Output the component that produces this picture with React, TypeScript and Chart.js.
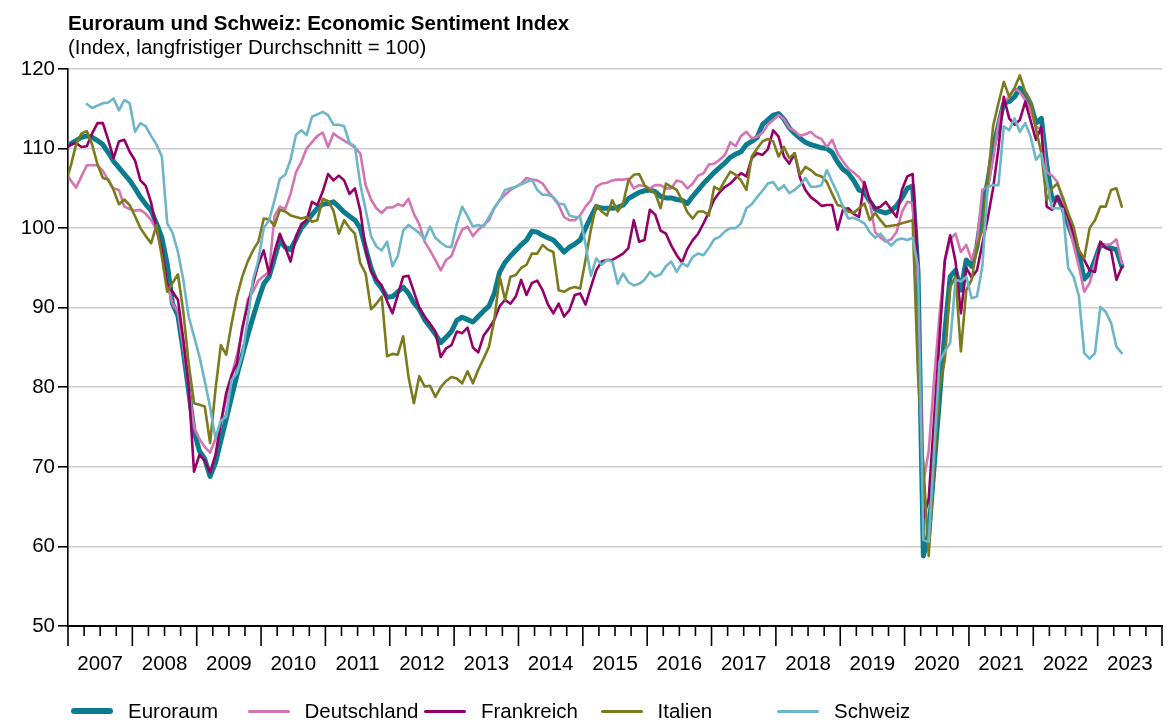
import React, { useEffect, useRef } from 'react';
import { Chart, registerables } from 'chart.js';

Chart.register(...registerables);

const FONT = '"Liberation Sans", Arial, Helvetica, sans-serif';

const chartTitle = 'Euroraum und Schweiz: Economic Sentiment Index';
const chartSubtitle = '(Index, langfristiger Durchschnitt = 100)';

// Monthly categories, Dec 2006 .. May 2023
const months: string[] = [];
for (let k = 0; k < 198; k++) {
  const m = (11 + k) % 12;
  const y = 2006 + Math.floor((11 + k) / 12);
  months.push(`${y}-${String(m + 1).padStart(2, '0')}`);
}

const yearLabels = ['2007', '2008', '2009', '2010', '2011', '2012', '2013', '2014', '2015', '2016', '2017', '2018', '2019', '2020', '2021', '2022', '2023'];
const yTickValues = [50, 60, 70, 80, 90, 100, 110, 120];

const euroraum = [
  110.2,
  110.6, 111.0, 111.4, 111.6, 111.4, 111.0, 110.5, 109.5, 108.4, 107.6, 106.8, 106.0,
  105.0, 103.9, 103.0, 102.2, 100.6, 98.8, 95.5, 90.5, 89.0, 84.5, 79.5, 74.5,
  72.0, 71.0, 68.8, 70.5, 73.3, 76.0, 78.8, 81.5, 84.0, 86.5, 88.8, 91.0,
  93.0, 93.9, 96.2, 98.5, 97.6, 97.3, 98.6, 100.0, 100.8, 101.7, 102.5, 103.0,
  103.1, 103.3, 102.7, 102.0, 101.5, 101.0, 100.0, 97.5, 95.0, 93.3, 92.4, 91.3,
  91.4, 92.0, 92.6, 91.8, 90.6, 89.8, 88.5, 87.6, 86.7, 85.6, 86.3, 87.0,
  88.4, 88.8, 88.5, 88.2, 88.9, 89.6, 90.2, 91.8, 94.5, 95.7, 96.5, 97.2,
  97.9, 98.5, 99.6, 99.5, 99.1, 98.8, 98.5, 97.8, 97.0, 97.6, 98.0, 98.5,
  100.0, 101.4, 102.7, 102.5, 102.5, 102.5, 102.6, 102.9, 103.7, 104.1, 104.5, 104.7,
  104.8, 104.6, 104.0, 103.8, 103.8, 103.6, 103.5, 103.1, 104.0, 104.8, 105.6, 106.3,
  107.0, 107.6, 108.2, 108.9, 109.3, 109.6, 110.5, 110.9, 111.4, 113.0, 113.6, 114.2,
  114.4, 113.7, 112.6, 111.9, 111.3, 110.8, 110.5, 110.3, 110.1, 110.0, 109.5, 108.3,
  107.4, 106.9, 106.0, 104.8, 104.5, 103.4, 102.4, 102.1, 101.9, 102.2, 102.8, 103.8,
  105.0, 105.3, 94.5, 58.8, 61.5, 70.0, 78.5, 87.0, 93.9, 94.7, 92.2, 96.0,
  95.2, 97.7, 102.5, 105.8, 110.0, 113.0, 115.7, 115.9, 116.5, 117.6, 116.9, 115.6,
  113.2, 113.8, 108.0, 103.5, 103.9, 102.5, 100.5, 98.6, 96.8, 93.6, 94.3, 96.0,
  97.9, 97.7, 97.5, 97.3, 95.2,
];

const deutschland = [
  107.2,
  106.0, 105.1, 106.5, 107.9, 107.9, 107.9, 107.2, 106.0, 105.0, 104.8, 102.7, 102.4,
  102.2, 102.3, 101.8, 101.0, 99.8, 97.0, 93.0, 90.5, 89.5, 85.0, 80.0, 75.0,
  73.5, 72.5, 71.8, 73.5, 75.5, 78.5, 81.5, 84.0, 87.0, 91.0, 92.0, 93.4,
  94.0, 94.5, 101.5, 102.7, 102.4, 104.3, 107.0, 108.3, 110.0, 110.8, 111.6, 112.0,
  110.2, 111.9, 111.4, 111.0, 110.6, 110.1, 109.4, 105.4, 103.6, 102.5, 101.9, 102.6,
  102.6, 103.0, 102.8, 103.7, 101.8, 100.5, 98.3, 97.2, 96.0, 94.7, 96.0, 96.5,
  98.3, 99.8, 100.2, 99.0, 99.8, 100.4, 101.0, 102.6, 103.5, 104.2, 104.8, 105.2,
  105.6, 106.3, 106.1, 106.0, 105.6, 104.6, 103.8, 102.9, 101.4, 101.0, 101.0, 101.6,
  102.7, 103.5, 105.2, 105.6, 105.7, 106.0, 106.1, 106.1, 106.2, 105.0, 105.4, 105.3,
  105.0, 105.4, 105.4, 105.0, 105.0, 106.0, 105.8, 105.0, 105.6, 106.6, 106.9, 108.0,
  108.1, 108.6, 109.2, 110.8, 110.3, 111.6, 112.1, 111.3, 111.5, 112.0, 113.0, 113.6,
  114.2, 113.7, 112.6, 112.2, 111.6, 111.8, 112.1, 111.5, 111.2, 110.2, 111.1, 109.4,
  108.4, 107.5, 107.0, 106.4, 105.5, 103.3, 99.5, 98.8, 98.3, 98.6, 99.5, 102.0,
  103.3, 103.2, 93.0, 68.0, 72.0, 81.0, 89.0, 95.8, 98.6, 99.3, 97.0, 97.9,
  96.0, 98.0, 104.8, 105.2, 108.6, 113.2, 115.8, 116.5, 117.6, 117.1, 116.1, 114.8,
  112.7, 112.5, 107.0, 106.6, 105.8, 103.5, 101.0, 97.9, 95.2, 92.0, 93.1, 95.6,
  98.0, 97.9, 98.0, 98.6, 95.6,
];

const frankreich = [
  110.0,
  110.5, 110.7, 110.2, 110.3, 111.9, 113.2, 113.2, 111.1, 108.8, 110.9, 111.1, 109.6,
  108.5, 106.0, 105.3, 103.2, 100.0, 97.3, 93.0, 92.0, 91.0, 86.0, 80.0, 69.4,
  71.5, 70.8, 69.3, 71.5, 75.5, 79.3, 81.5, 83.0, 87.5, 90.3, 93.0, 95.5,
  97.2, 94.2, 97.0, 99.3, 97.6, 95.8, 98.9, 100.5, 101.0, 103.3, 102.9, 104.6,
  106.8, 106.0, 106.6, 106.0, 104.3, 105.0, 102.2, 97.4, 94.6, 93.6, 92.8, 90.8,
  89.3, 91.6, 93.9, 94.0, 92.0, 90.0, 88.9, 88.0, 87.0, 83.8, 84.9, 85.3,
  87.0, 86.8, 87.5, 85.0, 84.4, 86.5, 87.4, 88.5, 90.2, 91.0, 90.5, 91.4,
  93.5, 91.6, 93.1, 93.4, 92.2, 90.4, 89.3, 90.5, 88.9, 89.7, 91.6, 91.8,
  90.4, 92.6, 94.7, 95.8, 96.0, 96.0, 96.4, 96.8, 97.5, 101.0, 98.3, 98.5,
  102.3, 101.7, 99.7, 99.3, 97.8, 96.6, 95.7, 97.4, 98.5, 99.3, 100.6, 102.0,
  103.6, 104.5, 105.2, 105.6, 106.3, 106.9, 106.5, 108.8, 109.4, 109.2, 109.9, 112.3,
  111.5, 109.0, 108.1, 109.4, 106.3, 104.8, 103.9, 103.4, 102.8, 102.9, 102.9, 99.8,
  102.3, 102.5, 101.8, 101.4, 105.8, 103.5, 102.5, 102.7, 103.3, 102.3, 101.4, 104.8,
  106.5, 106.8, 95.0, 63.5, 66.0, 76.0, 86.0, 96.0, 99.1, 95.8, 89.3, 95.0,
  93.8, 94.7, 98.0, 101.2, 105.0, 110.0, 116.5, 113.8, 113.0, 113.6, 115.9, 113.5,
  111.1, 112.7, 102.7, 102.3, 103.9, 102.7, 101.4, 99.3, 97.2, 96.0, 94.7, 94.5,
  98.3, 97.5, 97.2, 93.5, 95.1,
];

const italien = [
  105.5,
  107.8, 110.5, 111.9, 112.2, 110.5, 108.0, 106.3, 106.1, 104.8, 103.0, 103.6, 102.9,
  101.5, 100.0, 99.0, 98.1, 100.4, 96.4, 92.0, 93.1, 94.2, 89.5, 83.0, 78.0,
  77.8, 77.6, 73.0, 79.7, 85.3, 84.1, 88.0, 91.4, 93.9, 95.8, 97.2, 98.3,
  101.2, 101.1, 100.3, 102.3, 102.1, 101.6, 101.4, 101.2, 101.4, 100.8, 101.0, 103.7,
  103.4, 102.2, 99.3, 101.0, 100.0, 99.3, 95.6, 94.3, 89.8, 90.5, 91.4, 83.9,
  84.2, 84.1, 86.4, 81.3, 78.0, 81.4, 80.1, 80.2, 78.8, 80.0, 80.8, 81.3,
  81.1, 80.5, 82.0, 80.5, 82.2, 83.6, 85.1, 88.5, 93.9, 91.0, 93.9, 94.1,
  95.0, 95.4, 96.8, 96.8, 97.9, 97.3, 97.0, 92.2, 92.0, 92.4, 92.6, 92.4,
  96.0, 99.8, 102.9, 102.1, 101.6, 103.5, 102.1, 103.1, 106.0, 106.7, 106.8, 105.4,
  104.8, 104.4, 102.5, 105.6, 105.2, 104.8, 103.5, 102.0, 101.2, 102.1, 102.1, 101.6,
  105.2, 104.8, 106.0, 107.1, 106.7, 106.0, 104.8, 109.0, 110.0, 110.9, 111.2, 110.9,
  109.0, 110.2, 108.8, 109.4, 106.7, 107.7, 107.3, 106.7, 106.5, 105.8, 104.3, 102.9,
  102.7, 102.1, 101.9, 102.5, 103.1, 101.0, 101.9, 101.0, 100.2, 100.3, 100.4, 100.6,
  100.8, 101.0, 81.6, null, 58.8, 70.0, 80.1, 83.4, 92.6, 93.9, 84.5, 92.2,
  93.5, 97.7, 99.8, 106.0, 112.8, 115.7, 118.4, 116.5, 117.6, 119.2, 117.1, 115.9,
  112.5, 109.4, 103.5, 105.0, 105.6, 103.9, 101.9, 100.2, 97.2, 96.2, 100.0, 101.0,
  102.7, 102.7, 104.8, 105.0, 102.7,
];

const schweiz = [
  null,
  null, null, null, 115.6, 115.1, 115.4, 115.7, 115.8, 116.3, 114.8, 116.1, 115.7,
  112.1, 113.2, 112.8, 111.6, 110.5, 109.0, 100.6, 99.4, 97.0, 93.5, 88.9, 86.4,
  83.9, 80.8, 77.5, 73.6, 75.8, 76.3, 80.9, 81.8, 84.0, 88.5, 93.5, 96.0,
  100.0, 101.0, 103.5, 106.2, 106.7, 108.6, 111.7, 112.3, 111.7, 114.0, 114.3, 114.6,
  114.2, 113.0, 113.0, 112.8, 110.7, 110.3, 105.5, 102.3, 99.0, 97.7, 97.2, 98.3,
  95.2, 96.5, 99.7, 100.4, 99.9, 99.4, 98.6, 100.2, 98.8, 98.2, 97.7, 97.6,
  100.5, 102.7, 101.5, 100.2, 100.4, 100.2, 101.4, 102.5, 103.5, 104.8, 105.0, 105.2,
  105.5, 105.8, 106.1, 104.8, 104.2, 104.2, 103.9, 103.1, 103.0, 101.6, 101.4, 101.4,
  98.0, 94.0, 96.2, 95.4, 96.0, 95.8, 93.0, 94.3, 93.2, 92.8, 93.0, 93.5,
  94.5, 93.9, 94.2, 95.2, 95.8, 94.5, 95.6, 95.2, 96.4, 96.8, 96.6, 97.5,
  98.6, 98.9, 99.6, 100.0, 100.0, 100.6, 102.5, 103.0, 103.9, 104.7, 105.6, 105.8,
  104.8, 105.4, 104.4, 104.8, 105.4, 106.3, 105.2, 105.2, 105.4, 107.3, 105.8, 104.4,
  102.7, 101.2, 101.3, 101.0, 100.6, 99.5, 98.8, 99.3, 98.5, 97.8, 98.5, 98.7,
  98.5, 98.8, 95.2, 60.8, 60.6, 72.0, 83.2, 84.5, 85.6, 93.5, 93.3, 93.9,
  91.2, 91.4, 95.2, 105.2, 105.4, 105.4, 112.8, 112.3, 113.8, 112.1, 113.2, 111.5,
  108.6, 109.4, 106.0, 102.5, 102.5, 102.4, 95.0, 93.9, 91.5, 84.3, 83.6, 84.3,
  90.1, 89.5, 88.1, 85.1, 84.3,
];

const seriesNames = ['Euroraum', 'Deutschland', 'Frankreich', 'Italien', 'Schweiz'];
const seriesValues = [euroraum, deutschland, frankreich, italien, schweiz];
const seriesColors = ['#0b7b8e', '#d474b3', '#950068', '#7b7a1d', '#6db5c8'];
const seriesWidths = [5, 2.6, 2.6, 2.6, 2.6];
const legendWidths = [6, 3, 3, 3, 3];

// month label -> position on a linear month axis (0 = start of Jan 2007, points at mid-month)
const monthPos = (label: string) => {
  const [y, m] = label.split('-').map(Number);
  return (y - 2007) * 12 + (m - 1) + 0.5;
};

const axisTicksPlugin = {
  id: 'axisTicks',
  afterDraw(chart: any) {
    const xs = chart.scales.x;
    const ctx = chart.ctx;
    const y0 = chart.chartArea.bottom;
    ctx.save();
    ctx.strokeStyle = '#000';
    ctx.lineWidth = 1.6;
    for (let v = xs.min; v <= xs.max; v += 3) {
      const px = xs.getPixelForValue(v);
      const len = v % 12 === 0 ? 20 : 10;
      ctx.beginPath();
      ctx.moveTo(px, y0);
      ctx.lineTo(px, y0 + len);
      ctx.stroke();
    }
    ctx.restore();
  },
};

export default function App() {
  const canvasRef = useRef<HTMLCanvasElement | null>(null);

  useEffect(() => {
    if (!canvasRef.current) return;
    Chart.defaults.font.family = FONT;
    Chart.defaults.color = '#000';
    const datasets = seriesNames.map((name, s) => ({
      label: name,
      data: seriesValues[s].map((v, k) => ({ x: monthPos(months[k]), y: v })),
      borderColor: seriesColors[s],
      backgroundColor: seriesColors[s],
      borderWidth: seriesWidths[s],
      pointRadius: 0,
      pointHoverRadius: 0,
      tension: 0,
      spanGaps: true,
      borderJoinStyle: 'round' as const,
      borderCapStyle: 'round' as const,
      order: 5 - s,
      clip: { left: 0, top: 8, right: 8, bottom: 8 },
    }));

    const chart = new Chart(canvasRef.current, {
      type: 'line',
      data: { datasets },
      options: {
        animation: false,
        responsive: false,
        maintainAspectRatio: false,
        devicePixelRatio: 1,
        events: [],
        layout: { padding: { left: 0, right: 6, top: 69, bottom: 0 } },
        plugins: {
          legend: { display: false },
          title: { display: false },
          tooltip: { enabled: false },
        },
        scales: {
          x: {
            type: 'linear',
            min: 0,
            max: 204,
            afterFit: (s: any) => { s.height = 94; },
            afterBuildTicks: (s: any) => {
              s.ticks = yearLabels.map((_, k) => ({ value: k * 12 + 6 }));
            },
            grid: {
              display: true,
              drawOnChartArea: false,
              drawTicks: true,
              tickLength: 26,
              tickColor: 'rgba(0,0,0,0)',
              color: 'rgba(0,0,0,0)',
            },
            border: { display: true, color: '#000', width: 2 },
            ticks: {
              autoSkip: false,
              maxRotation: 0,
              minRotation: 0,
              padding: 0,
              font: { size: 20.5, family: FONT },
              color: '#000',
              callback: (value: any) => yearLabels[Math.round((Number(value) - 6) / 12)] ?? '',
            },
          },
          y: {
            min: 50,
            max: 120,
            afterFit: (s: any) => { s.width = 68; },
            afterBuildTicks: (s: any) => {
              s.ticks = yTickValues.map((v) => ({ value: v }));
            },
            grid: {
              color: '#cccccc',
              lineWidth: 1.6,
              drawTicks: true,
              tickLength: 10,
              tickColor: '#000',
              tickWidth: 1.6,
            },
            border: { display: true, color: '#000', width: 1.6 },
            ticks: {
              padding: 3,
              font: { size: 20.5, family: FONT },
              color: '#000',
            },
          },
        },
      },
      plugins: [axisTicksPlugin],
    });
    return () => chart.destroy();
  }, []);

  return (
    <div style={{ position: 'fixed', left: 0, top: 0, width: 1168, height: 720, background: '#fff', fontFamily: FONT, color: '#000' }}>
      <canvas ref={canvasRef} width={1168} height={720} style={{ position: 'absolute', left: 0, top: 0, width: 1168, height: 720, display: 'block' }} />
      <div style={{ position: 'absolute', left: 68, top: 11, fontSize: 20.5, lineHeight: '24px', fontWeight: 'bold', whiteSpace: 'nowrap' }}>{chartTitle}</div>
      <div style={{ position: 'absolute', left: 68, top: 35, fontSize: 20.5, lineHeight: '24px', whiteSpace: 'nowrap' }}>{chartSubtitle}</div>
      <div style={{ position: 'absolute', left: 71, top: 699, display: 'flex', height: 24 }}>
        {seriesNames.map((name, s) => (
          <div key={name} style={{ width: 176.5, display: 'flex', alignItems: 'center', height: 24 }}>
            <div style={{ width: 42, height: legendWidths[s], background: seriesColors[s], borderRadius: legendWidths[s] / 2, marginRight: 15, flex: 'none' }} />
            <span style={{ fontSize: 20.5, lineHeight: '24px', whiteSpace: 'nowrap' }}>{name}</span>
          </div>
        ))}
      </div>
    </div>
  );
}
